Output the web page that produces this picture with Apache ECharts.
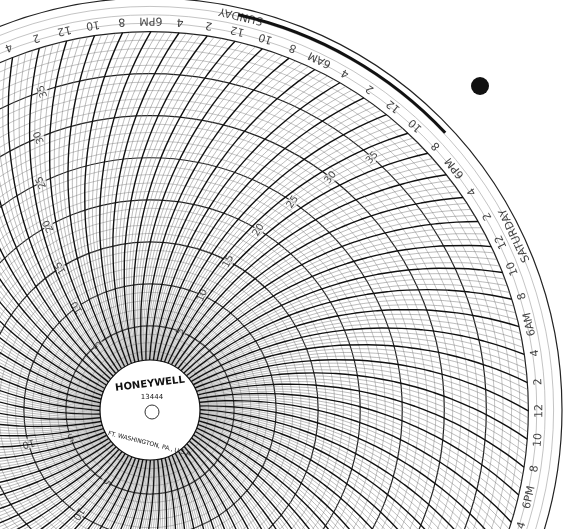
<!DOCTYPE html>
<html><head><meta charset="utf-8">
<script src="https://cdn.jsdelivr.net/npm/echarts@6/dist/echarts.min.js"></script>
<style>html,body{margin:0;background:#fff}#c{width:571px;height:529px}</style>
</head><body><div id="c"></div>
<script>
// chart paper data
var days = ['SUNDAY', 'MONDAY', 'TUESDAY', 'WEDNESDAY', 'THURSDAY', 'FRIDAY', 'SATURDAY'];
var hourLabels = ['12', '2', '4', '6AM', '8', '10', '12', '2', '4', '6PM', '8', '10'];
var ringLabels = [5, 10, 15, 20, 25, 30, 35];
var rayAngles = [105, 45, 175, 215]; // math degrees (at rim) where the value labels run

var START = 51.3;          // math angle of Sunday 0h
var RMIN = -5, RMAX = 40;

function offset(r) { // bend of a time arc, 0 at the rim
	var u = (r - RMIN) / (RMAX - RMIN);
	return -(Math.asin(u / 2) - Math.asin(0.5)) * 180 / Math.PI;
}
function arc(a) {
	var pts = [];
	for (var r = RMIN; r <= RMAX; r += 2.25) pts.push([r, a + offset(r)]);
	return pts;
}

var major = [], minor = [];
for (var t = 0; t < 168; t += 0.5) {
	var a = t * 360 / 168;
	var target = (t % 2 === 0) ? major : minor;
	target.push.apply(target, arc(a));
	target.push('-');
}

var hourData = [];
for (var d = 0; d < 7; d++) {
	for (var i = 0; i < 12; i++) {
		var ang = (d * 24 + i * 2) * 360 / 168;
		hourData.push({value: [41.3, ang], label: {formatter: hourLabels[i], rotate: ang + START + 90}});
		if (i === 6) {
			hourData.push({value: [43.1, ang], label: {formatter: days[d], rotate: ang + START + 90, fontSize: 11}});
		}
	}
}

var valueData = [];
rayAngles.forEach(function (base) {
	ringLabels.forEach(function (v) {
		var ang = base - START + offset(v);
		valueData.push({value: [v, ang], label: {formatter: String(v), rotate: ang + START}});
	});
});

var chart = echarts.init(document.getElementById('c'));
chart.setOption({
	backgroundColor: '#fff',
	animation: false,
	polar: {center: [150, 410], radius: [0, 412]},
	angleAxis: {
		type: 'value', min: 0, max: 360, startAngle: START, clockwise: false,
		axisLine: {show: false}, axisTick: {show: false}, axisLabel: {show: false}, splitLine: {show: false}
	},
	radiusAxis: {
		type: 'value', min: RMIN, max: 44, interval: 5,
		axisLine: {show: false}, axisTick: {show: false}, axisLabel: {show: false},
		splitLine: {lineStyle: {color: '#222', width: 1.2}},
		minorTick: {show: false, splitNumber: 5},
		minorSplitLine: {show: true, lineStyle: {color: '#888', width: 0.5}}
	},
	series: [
		{type: 'line', coordinateSystem: 'polar', data: minor, symbol: 'none', smooth: true,
			lineStyle: {color: '#777', width: 0.5}, silent: true},
		{type: 'line', coordinateSystem: 'polar', data: major, symbol: 'none', smooth: true,
			lineStyle: {color: '#111', width: 1.4}, silent: true},
		{type: 'scatter', coordinateSystem: 'polar', data: hourData, symbolSize: 0,
			label: {show: true, position: 'inside', color: '#111', fontSize: 11, fontFamily: 'DejaVu Sans'}},
		{type: 'scatter', coordinateSystem: 'polar', data: valueData, symbolSize: 0,
			label: {show: true, position: 'inside', color: '#111', fontSize: 10, backgroundColor: '#fff', padding: [0, 1], fontFamily: 'DejaVu Sans'}}
	],
	graphic: [
		{type: 'circle', shape: {cx: 150, cy: 410, r: 50}, style: {fill: '#fff', stroke: '#111', lineWidth: 1.2}, z: 100},
		{type: 'circle', shape: {cx: 152, cy: 412, r: 7}, style: {fill: 'none', stroke: '#333', lineWidth: 1}, z: 101},
		{type: 'text', x: 150, y: 384, rotation: 0.12, style: {text: 'HONEYWELL', fill: '#111', font: 'bold 10px DejaVu Sans', align: 'center', verticalAlign: 'middle'}, z: 101},
		{type: 'text', x: 152, y: 397, style: {text: '13444', fill: '#111', font: '7px DejaVu Sans', align: 'center', verticalAlign: 'middle'}, z: 101},
		{type: 'text', x: 150, y: 444, rotation: -0.25, style: {text: 'FT. WASHINGTON, PA., U.S.A.', fill: '#111', font: '6px DejaVu Sans', align: 'center', verticalAlign: 'middle'}, z: 101},
		{type: 'circle', shape: {cx: 480, cy: 86, r: 9}, style: {fill: '#111'}, z: 100},
		{type: 'arc', shape: {cx: 150, cy: 410, r: 405, startAngle: -Math.PI * 0.82, endAngle: -Math.PI * 0.66}, style: {stroke: '#111', lineWidth: 3, fill: 'none'}, z: 100},
		{type: 'arc', shape: {cx: 150, cy: 410, r: 405, startAngle: -Math.PI * 0.43, endAngle: -Math.PI * 0.24}, style: {stroke: '#111', lineWidth: 3, fill: 'none'}, z: 100}
	]
});
</script></body></html>
